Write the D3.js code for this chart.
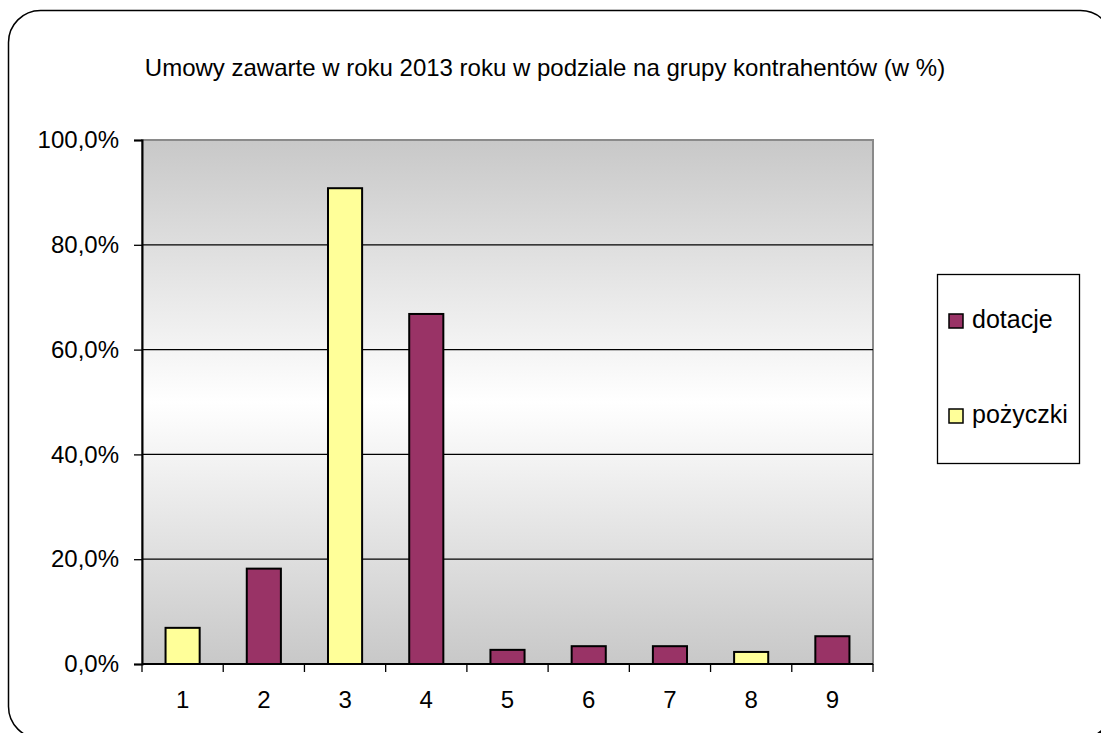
<!DOCTYPE html>
<html lang="pl">
<head>
<meta charset="UTF-8">
<script src="https://d3js.org/d3.v7.min.js"></script>
<title>Umowy zawarte w roku 2013</title>
<style>
	body { margin: 0; background: #fff; }
	text { font-family: "Liberation Sans", Arial, sans-serif; fill: #000; }
	.title { font-size: 24px; }
	.axis text { font-size: 24px; }
	.legend text { font-size: 25px; }
</style>
</head>
<body>
<script>
	// data
	const categories = ["1", "2", "3", "4", "5", "6", "7", "8", "9"];
	const dotacje   = [0, 18.2, 0, 66.8, 2.7, 3.4, 3.4, 0, 5.3];
	const pozyczki  = [6.9, 0, 90.8, 0, 0, 0, 0, 2.3, 0];
	const seriesNames = ["dotacje", "pożyczki"];
	const yTicks = [0, 20, 40, 60, 80, 100];

	const W = 1101, H = 733;
	const svg = d3.select("body").append("svg")
		.attr("width", W)
		.attr("height", H);

	const colors = { "dotacje": "#993366", "pożyczki": "#FFFF99" };

	// outer frame with a little shadow
	svg.append("rect")
		.attr("x", 11.5).attr("y", 13.5)
		.attr("width", 1104).attr("height", 728)
		.attr("rx", 32).attr("ry", 32)
		.style("fill", "#000");
	svg.append("rect")
		.attr("x", 8.5).attr("y", 10.5)
		.attr("width", 1104).attr("height", 728)
		.attr("rx", 32).attr("ry", 32)
		.style("fill", "#fff")
		.style("stroke", "#000")
		.style("stroke-width", 1.5);

	svg.append("text")
		.attr("class", "title")
		.attr("x", 545)
		.attr("y", 76)
		.attr("text-anchor", "middle")
		.text("Umowy zawarte w roku 2013 roku w podziale na grupy kontrahentów (w %)");

	const plot = { left: 142, right: 873, top: 140, bottom: 664 };

	let x = d3.scaleBand().domain(categories).range([plot.left, plot.right]).padding(0),
		y = d3.scaleLinear().domain([0, 100]).range([plot.bottom, plot.top]);

	// background gradient
	const grad = svg.append("defs").append("linearGradient")
		.attr("id", "bg")
		.attr("x1", 0).attr("y1", 0).attr("x2", 0).attr("y2", 1);
	grad.append("stop").attr("offset", "0%").attr("stop-color", "#c8c8c8");
	grad.append("stop").attr("offset", "50%").attr("stop-color", "#ffffff");
	grad.append("stop").attr("offset", "100%").attr("stop-color", "#c8c8c8");

	svg.append("rect")
		.attr("x", plot.left).attr("y", plot.top)
		.attr("width", plot.right - plot.left)
		.attr("height", plot.bottom - plot.top)
		.style("fill", "url(#bg)")
		.style("stroke", "#8a8a8a")
		.style("stroke-width", 2);

	// grid lines
	svg.selectAll(".grid")
		.data(yTicks.filter(d => d > 0 && d < 100))
		.enter().append("line")
		.attr("x1", plot.left).attr("x2", plot.right)
		.attr("y1", d => y(d)).attr("y2", d => y(d))
		.style("stroke", "#000")
		.style("stroke-width", 1.3);

	// stacked bars (each group only has one series)
	const rows = categories.map((c, i) => ({ cat: c, "dotacje": dotacje[i], "pożyczki": pozyczki[i] }));
	const stacked = d3.stack().keys(seriesNames)(rows);
	const barW = x.bandwidth() * 0.42;

	stacked.forEach(function (s) {
		svg.selectAll(".bar-" + s.index)
			.data(s.filter(d => d[1] - d[0] > 0))
			.enter().append("rect")
			.attr("x", d => x(d.data.cat) + (x.bandwidth() - barW) / 2)
			.attr("y", d => y(d[1]))
			.attr("width", barW)
			.attr("height", d => y(d[0]) - y(d[1]))
			.style("fill", colors[s.key])
			.style("stroke", "#000")
			.style("stroke-width", 2);
	});

	// axes
	const fmt = v => d3.format(".1f")(v).replace(".", ",") + "%";
	const yAxis = svg.append("g")
		.attr("class", "axis")
		.attr("transform", "translate(" + plot.left + ",0)")
		.call(d3.axisLeft(y).tickValues(yTicks).tickFormat(fmt).tickSize(8).tickPadding(15));
	yAxis.select(".domain").style("stroke", "#000").style("stroke-width", 2);
	yAxis.selectAll(".tick line").style("stroke-width", 1.3);

	const xAxis = svg.append("g")
		.attr("class", "axis")
		.attr("transform", "translate(0," + plot.bottom + ")")
		.call(d3.axisBottom(x).tickSize(0).tickPadding(27));
	xAxis.select(".domain").remove();
	xAxis.append("line")
		.attr("x1", plot.left).attr("x2", plot.right)
		.style("stroke", "#000").style("stroke-width", 2);
	xAxis.selectAll(".sep")
		.data(categories.map(c => x(c)).concat([plot.right]))
		.enter().append("line")
		.attr("x1", d => d).attr("x2", d => d)
		.attr("y1", 0).attr("y2", 8)
		.style("stroke", "#000").style("stroke-width", 1.3);

	// legend
	const legend = svg.append("g").attr("class", "legend");
	legend.append("rect")
		.attr("x", 937.5).attr("y", 274.5)
		.attr("width", 142).attr("height", 189)
		.style("fill", "#fff")
		.style("stroke", "#000")
		.style("stroke-width", 1.3);
	const item = legend.selectAll(".item")
		.data(seriesNames)
		.enter().append("g")
		.attr("transform", (d, i) => "translate(949," + (314 + i * 95) + ")");
	item.append("rect")
		.attr("width", 14).attr("height", 14)
		.style("fill", d => colors[d])
		.style("stroke", "#000")
		.style("stroke-width", 1.5);
	item.append("text")
		.attr("x", 23)
		.attr("y", 14)
		.text(d => d);
</script>
</body>
</html>
